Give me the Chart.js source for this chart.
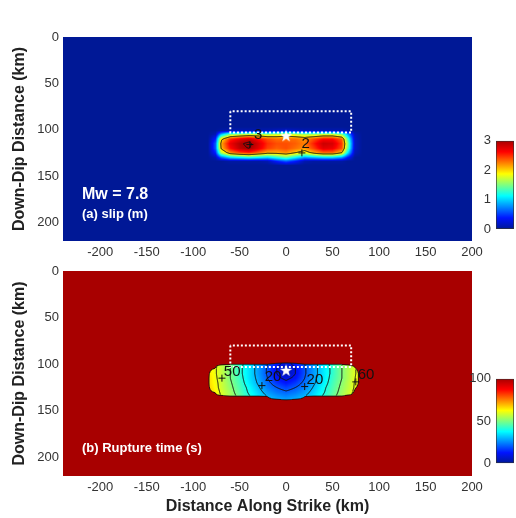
<!DOCTYPE html>
<html lang="en">
<head>
<meta charset="UTF-8">
<title>Slip and rupture time</title>
<script src="https://cdn.jsdelivr.net/npm/chart.js"></script>
<style>
  body { margin: 0; background: #fff; }
  #wrap { position: relative; width: 516px; height: 518px; }
  #wrap canvas { position: absolute; }
</style>
</head>
<body>
<div id="wrap">
  <canvas id="slipChart" width="516" height="262" style="left:0;top:0"></canvas>
  <canvas id="timeChart" width="516" height="260" style="left:0;top:258px"></canvas>
  <canvas id="slipBar" width="50" height="114" style="left:466px;top:128px"></canvas>
  <canvas id="timeBar" width="50" height="110" style="left:466px;top:366px"></canvas>
</div>
<script>
// slip model grid (km along strike / down dip)
const slipStrikeKm = [-84, -76, -70, -60, -50, -40, -30, -20, -10, 0, 10, 20, 30, 40, 50, 60, 66, 74, 82];
const slipDipKm = [97, 101, 105, 110, 115, 120, 125, 130, 134, 138];

// slip (m), one row per slipDipKm entry
const slipM = [
  [0, 0, 0, 0, 0, 0, 0, 0, 0, 0, 0, 0, 0, 0, 0, 0, 0, 0, 0],
  [0, 0, 0.05, 0.1, 0.1, 0.1, 0.1, 0.1, 0.15, 0.2, 0.15, 0.1, 0.1, 0.1, 0.1, 0.1, 0.05, 0, 0],
  [0, 0.1, 0.9, 1.5, 1.6, 1.7, 1.7, 1.6, 1.7, 1.8, 1.7, 1.6, 1.6, 1.7, 1.7, 1.5, 0.9, 0.1, 0],
  [0, 0.4, 1.9, 2.5, 2.7, 2.85, 2.6, 2.4, 2.3, 2.3, 2.3, 2.2, 2.4, 2.6, 2.6, 2.35, 1.4, 0.15, 0],
  [0, 0.6, 2.1, 2.7, 2.95, 3.08, 2.8, 2.5, 2.4, 2.4, 2.35, 2.25, 2.55, 2.85, 2.8, 2.45, 1.6, 0.15, 0],
  [0, 0.6, 2.05, 2.6, 2.9, 3.02, 2.75, 2.45, 2.35, 2.4, 2.3, 2.2, 2.45, 2.75, 2.7, 2.4, 1.5, 0.15, 0],
  [0, 0.4, 1.6, 2.2, 2.4, 2.5, 2.3, 2.1, 2.1, 2.2, 2.0, 1.8, 2.1, 2.3, 2.3, 2.0, 1.1, 0.1, 0],
  [0, 0.1, 0.6, 1.0, 1.1, 1.2, 1.1, 1.0, 1.2, 1.4, 1.1, 0.8, 0.9, 1.0, 1.0, 0.8, 0.4, 0, 0],
  [0, 0, 0, 0.05, 0.05, 0.05, 0.05, 0.1, 0.4, 0.6, 0.4, 0.1, 0.05, 0.05, 0.05, 0.05, 0, 0, 0],
  [0, 0, 0, 0, 0, 0, 0, 0, 0.05, 0.1, 0.05, 0, 0, 0, 0, 0, 0, 0, 0]
];

// rupture time grid and values (s)
const timeStrikeKm = [-90, -80, -70, -60, -50, -40, -30, -20, -10, 0, 10, 20, 30, 40, 50, 60, 70, 80];
const timeDipKm = [95, 100, 105, 110, 115, 120, 125, 130, 135, 140];
const ruptureS = [
  [70, 64, 57, 51, 43, 36, 29, 22, 15, 11, 15, 22, 29, 36, 43, 51, 57, 64],
  [70, 64, 57, 50, 43, 35, 27, 20, 12, 7, 12, 20, 27, 35, 43, 50, 57, 64],
  [70, 63, 57, 50, 42, 35, 27, 19, 10, 2, 10, 19, 27, 35, 42, 50, 57, 63],
  [70, 63, 57, 50, 42, 35, 27, 19, 10, 3, 10, 19, 27, 35, 42, 50, 57, 63],
  [70, 64, 57, 50, 43, 35, 28, 20, 12, 8, 12, 20, 28, 35, 43, 50, 57, 64],
  [71, 64, 58, 51, 44, 36, 29, 22, 16, 12, 16, 22, 29, 36, 44, 51, 58, 64],
  [71, 65, 58, 52, 45, 38, 31, 24, 20, 17, 20, 24, 31, 38, 45, 52, 58, 65],
  [72, 66, 59, 53, 46, 39, 33, 27, 23, 21, 23, 27, 33, 39, 46, 53, 59, 66],
  [73, 67, 60, 54, 48, 41, 35, 30, 27, 25, 27, 30, 35, 41, 48, 54, 60, 67],
  [74, 68, 62, 56, 49, 44, 38, 33, 30, 29, 30, 33, 38, 44, 49, 56, 62, 68]
];

const strikeTicks = [-200, -150, -100, -50, 0, 50, 100, 150, 200];
const dipTicks = [0, 50, 100, 150, 200];
const slipBarTicks = [0, 1, 2, 3];
const timeBarTicks = [0, 50, 100];
const slipLevels = [2, 3];
const timeLevels = [10, 20, 30, 40, 50, 60, 70];

// fault box and hypocentre
const boxStrike = [-60, -60, 70, 70, -60];
const boxDip = [80, 103, 103, 80, 80];
const hypocentre = {x: 0, y: 107};

// contour labels and their '+' marks
const slipLabelText = ['3', '2'];
const slipLabelStrike = [-30, 21];
const slipLabelDip = [105, 115];
const slipMarkStrike = [-39, 17];
const slipMarkDip = [116, 125];
const timeLabelText = ['50', '20', '20', '60'];
const timeLabelStrike = [-58, -14, 31, 86];
const timeLabelDip = [108, 114, 117, 111];
const timeMarkStrike = [-69, -26, 20, 75];
const timeMarkDip = [115, 123, 124, 119];

const slipGrid = {strike: slipStrikeKm, dip: slipDipKm, rows: slipM};
const timeGrid = {strike: timeStrikeKm, dip: timeDipKm, rows: ruptureS};

const FONT = 'Arial, "Liberation Sans", Helvetica, sans-serif';
const jetStops = [[0, [0, 24, 150]], [0.125, [0, 20, 255]], [0.375, [0, 255, 255]],
  [0.625, [255, 255, 0]], [0.875, [255, 0, 0]], [1, [168, 0, 0]]];

function jet(t) {
  t = Math.min(1, Math.max(0, t));
  for (let k = 1; k < jetStops.length; k++) {
    const [t1, c1] = jetStops[k];
    if (t <= t1) {
      const [t0, c0] = jetStops[k - 1];
      const f = (t - t0) / (t1 - t0);
      return c0.map((v, n) => Math.round(v + (c1[n] - v) * f));
    }
  }
  return jetStops[jetStops.length - 1][1];
}

// fractional index of v along a (possibly uneven) axis, -1 if outside
function locate(axis, v) {
  if (v < axis[0] || v > axis[axis.length - 1]) return -1;
  let i = 0;
  while (i < axis.length - 2 && v > axis[i + 1]) i++;
  return i + (v - axis[i]) / (axis[i + 1] - axis[i]);
}

// bilinear lookup in a grid table
function sampleGrid(grid, sx, dy) {
  const fx = locate(grid.strike, sx), fy = locate(grid.dip, dy);
  if (fx < 0 || fy < 0) return 0;
  const i = Math.min(Math.floor(fx), grid.strike.length - 2);
  const j = Math.min(Math.floor(fy), grid.dip.length - 2);
  const u = fx - i, v = fy - j;
  const r0 = grid.rows[j], r1 = grid.rows[j + 1];
  return (r0[i] * (1 - u) + r0[i + 1] * u) * (1 - v) + (r1[i] * (1 - u) + r1[i + 1] * u) * v;
}

// marching squares over the per-pixel field
function traceLevel(ctx, vals, w, h, ox, oy, level) {
  ctx.beginPath();
  for (let j = 0; j < h - 1; j++) {
    for (let i = 0; i < w - 1; i++) {
      const corners = [[i, j], [i + 1, j], [i + 1, j + 1], [i, j + 1]];
      const c = corners.map(([a, b]) => vals[b * w + a]);
      if (c.some(Number.isNaN)) continue;
      const pts = [];
      for (let e = 0; e < 4; e++) {
        const a = c[e], b = c[(e + 1) % 4];
        if ((a < level) !== (b < level)) {
          const f = (level - a) / (b - a);
          const [ai, aj] = corners[e], [bi, bj] = corners[(e + 1) % 4];
          pts.push([ox + ai + (bi - ai) * f + 0.5, oy + aj + (bj - aj) * f + 0.5]);
        }
      }
      for (let k = 0; k + 1 < pts.length; k += 2) {
        ctx.moveTo(pts[k][0], pts[k][1]);
        ctx.lineTo(pts[k + 1][0], pts[k + 1][1]);
      }
    }
  }
  ctx.stroke();
}

function fieldLayer(cfg) {
  return {
    id: 'fieldLayer',
    beforeDatasetsDraw(chart) {
      const {ctx, chartArea: a, scales: {x, y}} = chart;
      const g = cfg.grid;
      ctx.save();
      ctx.fillStyle = cfg.background;
      ctx.fillRect(a.left, a.top, a.width, a.height);
      const ox = Math.floor(x.getPixelForValue(g.strike[0]));
      const oy = Math.floor(y.getPixelForValue(g.dip[0]));
      const w = Math.ceil(x.getPixelForValue(g.strike[g.strike.length - 1])) - ox;
      const h = Math.ceil(y.getPixelForValue(g.dip[g.dip.length - 1])) - oy;
      const vals = new Float32Array(w * h), edge = new Float32Array(w * h);
      const off = document.createElement('canvas');
      off.width = w; off.height = h;
      const octx = off.getContext('2d');
      const img = octx.createImageData(w, h);
      for (let j = 0; j < h; j++) {
        const dv = y.getValueForPixel(oy + j + 0.5);
        for (let i = 0; i < w; i++) {
          const sv = x.getValueForPixel(ox + i + 0.5);
          const k = j * w + i;
          edge[k] = sampleGrid(slipGrid, sv, dv);
          const inside = !cfg.masked || edge[k] >= cfg.maskLevel;
          vals[k] = inside ? sampleGrid(g, sv, dv) : NaN;
          if (!inside) continue;
          const [r, gr, b] = jet(vals[k] / cfg.max);
          img.data.set([r, gr, b, 255], k * 4);
        }
      }
      octx.putImageData(img, 0, 0);
      ctx.drawImage(off, ox, oy);
      ctx.strokeStyle = '#111';
      ctx.lineWidth = 1;
      cfg.levels.forEach(l => traceLevel(ctx, vals, w, h, ox, oy, l));
      if (cfg.masked) traceLevel(ctx, edge, w, h, ox, oy, cfg.maskLevel);
      ctx.restore();
    },
    afterDatasetsDraw(chart) {
      const {ctx, chartArea: a, scales: {x, y}} = chart;
      ctx.save();
      ctx.fillStyle = '#111';
      ctx.font = '15px ' + FONT;
      ctx.textAlign = 'center';
      ctx.textBaseline = 'middle';
      cfg.labelText.forEach((t, n) => {
        ctx.fillText(t, x.getPixelForValue(cfg.labelStrike[n]), y.getPixelForValue(cfg.labelDip[n]));
      });
      ctx.fillStyle = '#fff';
      ctx.textAlign = 'left';
      cfg.captions.forEach(([text, size, dy]) => {
        ctx.font = 'bold ' + size + 'px ' + FONT;
        ctx.fillText(text, a.left + 19, a.top + dy);
      });
      ctx.restore();
    }
  };
}

const starImg = document.createElement('canvas');
starImg.width = starImg.height = 14;
(function () {
  const sc = starImg.getContext('2d');
  sc.fillStyle = '#fff';
  sc.beginPath();
  for (let k = 0; k < 10; k++) {
    const r = k % 2 ? 2.6 : 6.5;
    const ang = -Math.PI / 2 + k * Math.PI / 5;
    sc.lineTo(7 + r * Math.cos(ang), 7 + r * Math.sin(ang));
  }
  sc.closePath();
  sc.fill();
})();

function axes(xTitle, xHeight) {
  const tickFont = {family: FONT, size: 13};
  const titleFont = {family: FONT, size: 16, weight: 'bold'};
  return {
    x: {
      type: 'linear', min: -240, max: 200,
      afterBuildTicks: s => { s.ticks = strikeTicks.map(v => ({value: v})); },
      afterFit: s => { s.height = xHeight; },
      grid: {display: false, drawTicks: false},
      border: {display: false},
      ticks: {color: '#333', font: tickFont, padding: 4, maxRotation: 0, autoSkip: false},
      title: {display: !!xTitle, text: xTitle, color: '#222', font: titleFont, padding: {top: 0, bottom: 1.4}}
    },
    y: {
      type: 'linear', min: 0, max: 220, reverse: true,
      afterBuildTicks: s => { s.ticks = dipTicks.map(v => ({value: v})); },
      afterFit: s => { s.width = 63; },
      grid: {display: false, drawTicks: false},
      border: {display: false},
      ticks: {color: '#333', font: tickFont, padding: 4, autoSkip: false},
      title: {display: true, text: 'Down-Dip Distance (km)', color: '#222', font: titleFont, padding: {top: 10, bottom: 0}}
    }
  };
}

function overlays(markStrike, markDip) {
  return [
    {data: [hypocentre], pointStyle: starImg, pointRadius: 6},
    {data: boxStrike.map((v, n) => ({x: v, y: boxDip[n]})), showLine: true, borderColor: '#fff',
      borderWidth: 2, borderDash: [2, 2], pointRadius: 0},
    {data: markStrike.map((v, n) => ({x: v, y: markDip[n]})), pointStyle: 'cross', pointRadius: 3.5,
      borderColor: '#111', borderWidth: 1}
  ];
}

function panel(id, layer, padTop, xTitle, xHeight) {
  new Chart(document.getElementById(id), {
    type: 'scatter',
    data: {datasets: overlays(layer.markStrike, layer.markDip)},
    options: {
      responsive: false, animation: false, events: [],
      layout: {padding: {top: padTop, right: 44, bottom: 0, left: 0}},
      plugins: {legend: {display: false}, tooltip: {enabled: false}},
      scales: axes(xTitle, xHeight)
    },
    plugins: [fieldLayer(layer)]
  });
}

panel('slipChart', {
  grid: slipGrid, max: 3, levels: slipLevels, masked: false, background: 'rgb(0,24,150)',
  labelText: slipLabelText, labelStrike: slipLabelStrike, labelDip: slipLabelDip,
  markStrike: slipMarkStrike, markDip: slipMarkDip,
  captions: [['Mw = 7.8', 16, 158], ['(a) slip (m)', 13, 177]]
}, 37, '', 21);

panel('timeChart', {
  grid: timeGrid, max: 100, levels: timeLevels, masked: true, maskLevel: 0.08, background: 'rgb(168,0,0)',
  labelText: timeLabelText, labelStrike: timeLabelStrike, labelDip: timeLabelDip,
  markStrike: timeMarkStrike, markDip: timeMarkDip,
  captions: [['(b) Rupture time (s)', 13, 177]]
}, 13, 'Distance Along Strike (km)', 42);

function colourBar(id, max, ticks, padBottom) {
  new Chart(document.getElementById(id), {
    type: 'bar',
    data: {
      labels: [''],
      datasets: [{
        data: [[0, max]],
        backgroundColor: c => {
          const a = c.chart.chartArea;
          if (!a) return null;
          const g = c.chart.ctx.createLinearGradient(0, a.bottom, 0, a.top);
          jetStops.forEach(([t, rgb]) => g.addColorStop(t, 'rgb(' + rgb.join(',') + ')'));
          return g;
        },
        borderColor: '#333', borderWidth: 1, borderSkipped: false,
        barPercentage: 1, categoryPercentage: 1
      }]
    },
    options: {
      responsive: false, animation: false, events: [],
      layout: {padding: {top: 12, right: 2, bottom: padBottom, left: 0}},
      plugins: {legend: {display: false}, tooltip: {enabled: false}},
      scales: {
        x: {display: false},
        y: {
          min: 0, max: max,
          afterBuildTicks: s => { s.ticks = ticks.map(v => ({value: v})); },
          afterFit: s => { s.width = 30; },
          grid: {display: false, drawTicks: false},
          border: {display: false},
          ticks: {color: '#333', font: {family: FONT, size: 13}, padding: 5}
        }
      }
    }
  });
}

colourBar('slipBar', 3, slipBarTicks, 13);
colourBar('timeBar', 100, timeBarTicks, 12);
</script>
</body>
</html>
